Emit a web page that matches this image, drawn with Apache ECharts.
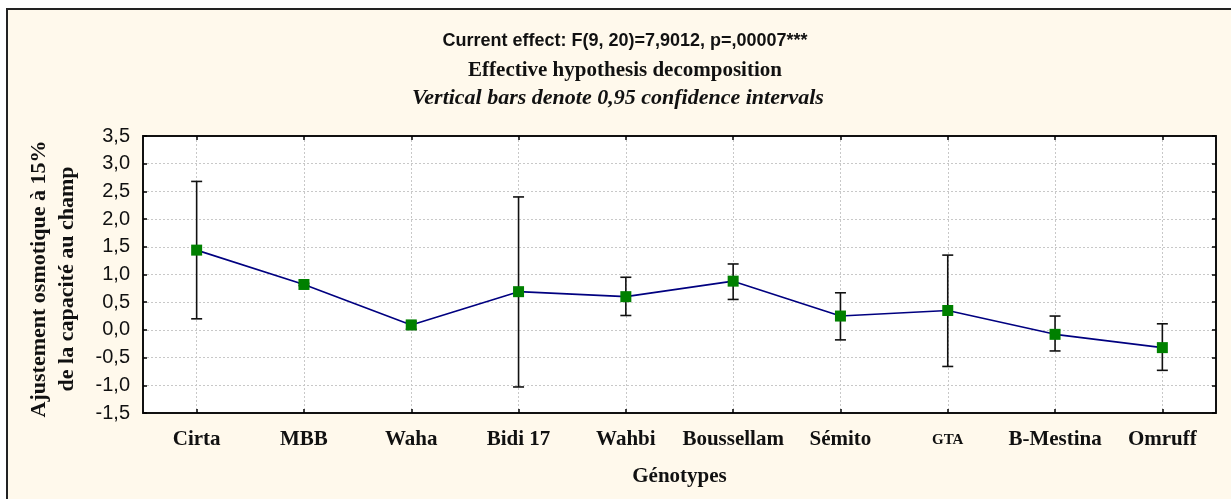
<!DOCTYPE html>
<html>
<head>
<meta charset="utf-8">
<script src="https://cdn.jsdelivr.net/npm/echarts@6/dist/echarts.min.js"></script>
<style>
    html, body { margin: 0; padding: 0; background: #fff; }
    #chart { width: 1231px; height: 499px; }
</style>
</head>
<body>
<div id="chart"></div>
<script>
// categories and values
const genotypes = ['Cirta', 'MBB', 'Waha', 'Bidi 17', 'Wahbi', 'Boussellam', 'Sémito', 'GTA', 'B-Mestina', 'Omruff'];
const means = [1.44, 0.82, 0.09, 0.69, 0.60, 0.88, 0.25, 0.35, -0.08, -0.32];
const lower = [0.20, 0.80, 0.01, -1.03, 0.26, 0.55, -0.18, -0.66, -0.38, -0.73];
const upper = [2.68, 0.84, 0.15, 2.40, 0.95, 1.19, 0.67, 1.35, 0.25, 0.11];

const serif = '"Liberation Serif", "Times New Roman", serif';
const sans = '"Liberation Sans", Arial, sans-serif';

window.onload = function () {
    const chart = echarts.init(document.getElementById('chart'));

    const errData = genotypes.map(function (g, i) {
        return [i, lower[i], upper[i]];
    });

    // ticks pointing inside, like the original
    const tickIn = { show: true, inside: true, length: 4, interval: 0, alignWithLabel: true, lineStyle: { color: '#000', width: 1.5 } };
    const axisLn = { show: true, onZero: false, lineStyle: { color: '#111', width: 2 } };

    const option = {
        backgroundColor: '#fff',
        animation: false,
        graphic: [
            {
                type: 'rect', z: -10,
                shape: { x: 7, y: 9, width: 1240, height: 500 },
                style: { fill: '#FFF9EC', stroke: '#222', lineWidth: 2 }
            },
            {
                type: 'text', x: 625, y: 41, z: 10,
                style: { text: 'Current effect: F(9, 20)=7,9012, p=,00007***', align: 'center', verticalAlign: 'middle',
                    font: 'bold 18px ' + sans, fill: '#111' }
            },
            {
                type: 'text', x: 625, y: 71, z: 10,
                style: { text: 'Effective hypothesis decomposition', align: 'center', verticalAlign: 'middle',
                    font: 'bold 21px ' + serif, fill: '#111' }
            },
            {
                type: 'text', x: 618, y: 98, z: 10,
                style: { text: 'Vertical bars denote 0,95 confidence intervals', align: 'center', verticalAlign: 'middle',
                    font: 'italic bold 22px ' + serif, fill: '#111' }
            },
            {
                type: 'text', x: 53, y: 279, rotation: Math.PI / 2, z: 10,
                style: { text: 'Ajustement osmotique à 15%\nde la capacité au champ', align: 'center', verticalAlign: 'middle',
                    font: 'bold 22px ' + serif, lineHeight: 28, fill: '#111' }
            }
        ],
        grid: {
            left: 143, right: 15, top: 136, bottom: 86,
            show: true, backgroundColor: '#fff', borderWidth: 0
        },
        xAxis: [
            {
                type: 'category',
                data: genotypes,
                position: 'bottom',
                name: 'Génotypes',
                nameLocation: 'middle',
                nameGap: 53,
                nameTextStyle: { fontFamily: serif, fontWeight: 'bold', fontSize: 21, color: '#111' },
                axisLine: axisLn,
                axisTick: tickIn,
                splitLine: { show: true, interval: 0, alignWithLabel: true, lineStyle: { color: '#c8c8c8', type: [2, 2], width: 1 } },
                axisLabel: {
                    interval: 0,
                    margin: 14,
                    lineHeight: 26,
                    fontFamily: serif, fontWeight: 'bold', fontSize: 21, color: '#111',
                    formatter: function (v) { return v === 'GTA' ? '{s|GTA}' : v; },
                    rich: { s: { fontFamily: serif, fontWeight: 'bold', fontSize: 15, lineHeight: 22, padding: [4, 0, 0, 0], color: '#111' } }
                }
            },
            {
                type: 'category',
                data: genotypes,
                position: 'top',
                axisLine: axisLn,
                axisTick: tickIn,
                axisLabel: { show: false },
                splitLine: { show: false }
            }
        ],
        yAxis: [
            {
                type: 'value',
                min: -1.5, max: 3.5, interval: 0.5,
                position: 'left',
                axisLine: axisLn,
                axisTick: { show: true, inside: true, length: 4, lineStyle: { color: '#000', width: 1.5 } },
                splitLine: { show: true, lineStyle: { color: '#c8c8c8', type: [2, 2], width: 1 } },
                axisLabel: {
                    margin: 13,
                    fontFamily: sans, fontSize: 20, color: '#111',
                    formatter: function (v) { return v.toFixed(1).replace('.', ','); }
                }
            },
            {
                type: 'value',
                min: -1.5, max: 3.5, interval: 0.5,
                position: 'right',
                axisLine: axisLn,
                axisTick: { show: true, inside: true, length: 4, lineStyle: { color: '#000', width: 1.5 } },
                splitLine: { show: false },
                axisLabel: { show: false }
            }
        ],
        series: [
            {
                type: 'custom',
                z: 2,
                data: errData,
                renderItem: function (params, api) {
                    const lo = api.coord([api.value(0), api.value(1)]);
                    const hi = api.coord([api.value(0), api.value(2)]);
                    const w = 5.5;
                    const st = { stroke: '#111', lineWidth: 1.6 };
                    return {
                        type: 'group',
                        children: [
                            { type: 'line', shape: { x1: lo[0], y1: lo[1], x2: hi[0], y2: hi[1] }, style: st },
                            { type: 'line', shape: { x1: lo[0] - w, y1: lo[1], x2: lo[0] + w, y2: lo[1] }, style: st },
                            { type: 'line', shape: { x1: hi[0] - w, y1: hi[1], x2: hi[0] + w, y2: hi[1] }, style: st }
                        ]
                    };
                }
            },
            {
                type: 'line',
                z: 3,
                data: means,
                symbol: 'rect',
                symbolSize: 11,
                showAllSymbol: true,
                itemStyle: { color: '#008000' },
                lineStyle: { color: '#000080', width: 1.6 }
            }
        ]
    };

    chart.setOption(option);
};
</script>
</body>
</html>
